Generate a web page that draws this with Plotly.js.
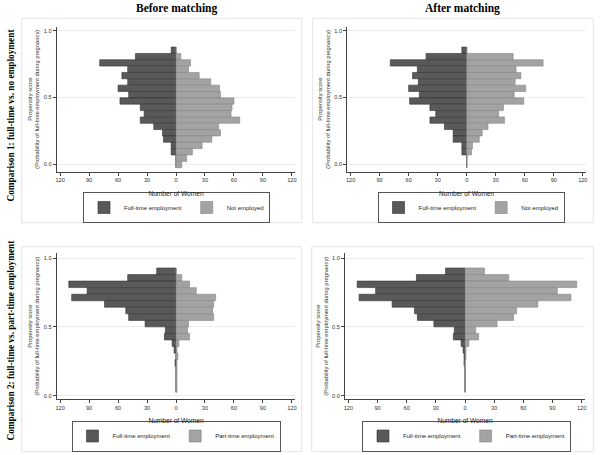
<!DOCTYPE html>
<html>
<head>
<meta charset="utf-8">
<script src="https://cdn.plot.ly/plotly-3.0.1.min.js"></script>
<style>html,body{margin:0;padding:0;background:#fff;}#chart{width:600px;height:455px;}</style>
</head>
<body>
<div id="chart"></div>
<script>
// Bin midpoints of the propensity score (top to bottom)
const binsComp1 = [0.854,0.806,0.759,0.711,0.664,0.616,0.569,0.521,0.474,0.426,0.379,0.331,0.284,0.236,0.189,0.141,0.094,0.046,-0.001];
const binsComp2 = [0.905,0.857,0.810,0.762,0.714,0.667,0.619,0.571,0.524,0.476,0.429,0.381,0.333,0.286,0.238,0.190,0.143,0.095,0.048];

// Comparison 1: full-time vs. no employment
const fullTimeC1Before = [5,42,79,50,56,50,60,49,58,37,33,37,23,14,13,5,5,0,0];
const notEmployedBefore = [0,5,15,13,24,36,45,46,60,58,57,66,44,46,37,27,17,11,6];
const fullTimeC1After = [5,42,79,51,56,50,60,49,59,38,32,38,23,14,14,5,5,0,0];
const notEmployedAfter = [0,48,79,51,56,50,61,49,59,38,33,39,22,16,13,6,5,0,0];

// Comparison 2: full-time vs. part-time employment
const fullTimeC2Before = [20,50,111,92,108,74,52,49,32,11,12,4,2,0,1,0,0,0,0];
const partTimeBefore = [0,6,14,21,41,39,38,39,13,12,14,3,1,2,1,1,1,1,1];
const fullTimeC2After = [20,50,111,92,109,75,52,49,32,11,12,4,2,1,1,0,0,0,0];
const partTimeAfter = [20,45,115,95,109,75,53,50,33,11,14,4,1,1,0,0,0,0,0];

const xTickVals = [-120,-90,-60,-30,0,30,60,90,120];
const xTickText = ["120","90","60","30","0","30","60","90","120"];
const yTickVals = [0,0.5,1];
const yTickText = ["0.0","0.5","1.0"];

const DARK = '#595959', LIGHT = '#a3a3a3';
const BINW = 0.0475;
const SANS = 'Liberation Sans, Arial, sans-serif';
const SERIF = 'Liberation Serif, Times New Roman, serif';

function leftBar(y, vals, name, xa, ya, leg) {
  return {type:'bar', orientation:'h', y:y, x:vals.map(v => -v), width:BINW,
    name:name, xaxis:xa, yaxis:ya, legend:leg,
    marker:{color:DARK, line:{color:'#333333', width:0.6}},
    customdata: vals, hovertemplate:'%{customdata}<extra>'+name+'</extra>'};
}
function rightBar(y, vals, name, xa, ya, leg) {
  return {type:'bar', orientation:'h', y:y, x:vals, width:BINW,
    name:name, xaxis:xa, yaxis:ya, legend:leg,
    marker:{color:LIGHT, line:{color:'#858585', width:0.6}},
    hovertemplate:'%{x}<extra>'+name+'</extra>'};
}

const data = [
  leftBar(binsComp1, fullTimeC1Before, 'Full-time employment', 'x', 'y', 'legend'),
  rightBar(binsComp1, notEmployedBefore, 'Not employed', 'x', 'y', 'legend'),
  leftBar(binsComp1, fullTimeC1After, 'Full-time employment', 'x2', 'y2', 'legend2'),
  rightBar(binsComp1, notEmployedAfter, 'Not employed', 'x2', 'y2', 'legend2'),
  leftBar(binsComp2, fullTimeC2Before, 'Full-time employment', 'x3', 'y3', 'legend3'),
  rightBar(binsComp2, partTimeBefore, 'Part-time employment', 'x3', 'y3', 'legend3'),
  leftBar(binsComp2, fullTimeC2After, 'Full-time employment', 'x4', 'y4', 'legend4'),
  rightBar(binsComp2, partTimeAfter, 'Part-time employment', 'x4', 'y4', 'legend4')
];

function xAxis(domain, anchor) {
  return {domain:domain, anchor:anchor, range:[-123.5,123.5], tickvals:xTickVals, ticktext:xTickText,
    ticks:'outside', ticklen:3, tickwidth:1, tickcolor:'#444', showline:true, linecolor:'#444', linewidth:1,
    showgrid:false, zeroline:false, tickfont:{family:SANS, size:5.6, color:'#333'}, automargin:true,
    title:{text:'Number of Women', font:{family:SANS, size:6.6, color:'#222'}, standoff:8}, fixedrange:true};
}
function yAxis(domain, anchor, range) {
  return {domain:domain, anchor:anchor, range:range, tickvals:yTickVals, ticktext:yTickText,
    ticks:'outside', ticklen:3, tickwidth:1, tickcolor:'#444', showline:true, linecolor:'#444', linewidth:1,
    showgrid:true, gridcolor:'#ececec', gridwidth:1, zeroline:false, tickfont:{family:SANS, size:5.6, color:'#333'},
    automargin:true,
    title:{text:'Propensity score<br>(Probability of full-time employment during pregnancy)',
      font:{family:SANS, size:5.8, color:'#333'}, standoff:3}, fixedrange:true};
}
function legendAt(xc, yc) {
  return {orientation:'h', x:xc, xanchor:'center', y:yc, yanchor:'middle', bgcolor:'#fff',
    bordercolor:'#555', borderwidth:1, font:{family:SANS, size:6, color:'#222'},
    itemwidth:30, tracegroupgap:0, itemclick:false, itemdoubleclick:false};
}

const panelBox = (x0,x1,y0,y1) => ({type:'rect', xref:'paper', yref:'paper', x0:x0/600, x1:x1/600,
  y0:(455-y1)/455, y1:(455-y0)/455, line:{color:'#e4e4e4', width:1}, layer:'below'});

const layout = {
  width:600, height:455, margin:{l:0, r:0, t:0, b:0, autoexpand:false}, paper_bgcolor:'#fff', plot_bgcolor:'#fff',
  barmode:'overlay', bargap:0, showlegend:true, font:{family:SANS},
  xaxis: xAxis([56.7/600, 295.3/600], 'y'),
  yaxis: yAxis([(455-171.7)/455, (455-26.7)/455], 'x', [-0.055, 1.03]),
  xaxis2: xAxis([347.2/600, 586.2/600], 'y2'),
  yaxis2: yAxis([(455-171.7)/455, (455-26.7)/455], 'x2', [-0.055, 1.03]),
  xaxis3: xAxis([56.7/600, 295.3/600], 'y3'),
  yaxis3: yAxis([(455-399.3)/455, (455-253)/455], 'x3', [-0.027, 1.038]),
  xaxis4: xAxis([345/600, 585/600], 'y4'),
  yaxis4: yAxis([(455-399.3)/455, (455-253)/455], 'x4', [-0.027, 1.038]),
  legend: legendAt(176.5/600, (455-207.5)/455),
  legend2: legendAt(471/600, (455-207.5)/455),
  legend3: legendAt(176/600, (455-436)/455),
  legend4: legendAt(466.5/600, (455-436)/455),
  shapes: [panelBox(21.7,301.7,18.3,222.7), panelBox(312.7,593.3,18.3,222.7),
           panelBox(21.7,301.7,246.7,451.7), panelBox(311.7,593.3,246.7,451.7)],
  annotations: [
    {text:'<b>Before matching</b>', xref:'paper', yref:'paper', x:176.5/600, y:(455-8.5)/455,
     xanchor:'center', yanchor:'middle', showarrow:false, font:{family:SERIF, size:11.5, color:'#000'}},
    {text:'<b>After matching</b>', xref:'paper', yref:'paper', x:463/600, y:(455-8.5)/455,
     xanchor:'center', yanchor:'middle', showarrow:false, font:{family:SERIF, size:11.5, color:'#000'}},
    {text:'<b>Comparison 1: full-time vs. no employment</b>', xref:'paper', yref:'paper', x:10.5/600, y:(455-115)/455,
     xanchor:'center', yanchor:'middle', textangle:-90, showarrow:false, font:{family:SERIF, size:9.3, color:'#000'}},
    {text:'<b>Comparison 2: full-time vs. part-time employment</b>', xref:'paper', yref:'paper', x:10.5/600, y:(455-340)/455,
     xanchor:'center', yanchor:'middle', textangle:-90, showarrow:false, font:{family:SERIF, size:9.3, color:'#000'}}
  ]
};

Plotly.newPlot('chart', data, layout, {staticPlot:true, displayModeBar:false});
</script>
</body>
</html>
